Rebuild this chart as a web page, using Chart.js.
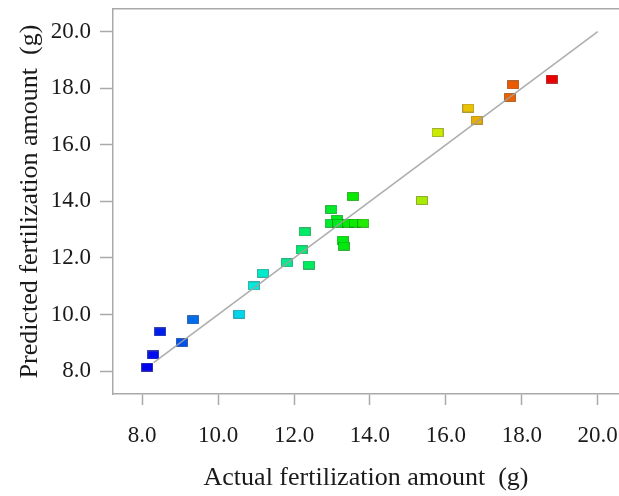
<!DOCTYPE html>
<html>
<head>
<meta charset="utf-8">
<script src="https://cdn.jsdelivr.net/npm/chart.js@4/dist/chart.umd.min.js"></script>
<style>
  body { margin: 0; background: #fff; overflow: hidden; }
  #chart { display: block; }
</style>
</head>
<body>
<canvas id="chart" width="619" height="496"></canvas>
<script>
// measured vs predicted values (g)
var actualValues = [8.13, 8.29, 8.47, 9.04, 9.34, 10.56, 10.94, 11.18, 11.81, 12.20, 12.28, 12.39,
  12.98, 13.12, 12.96, 13.16, 13.42, 13.60, 13.82, 13.28, 13.31, 13.55, 15.37, 15.78,
  16.59, 16.81, 17.69, 17.77, 18.79];
var predictedValues = [8.14, 8.57, 9.39, 9.01, 9.81, 10.01, 11.01, 11.46, 11.83, 12.29, 12.92, 11.75,
  13.71, 13.36, 13.23, 13.23, 13.23, 13.23, 13.23, 12.63, 12.42, 14.17, 14.03, 16.43,
  17.30, 16.87, 17.67, 18.12, 18.32];
var lineX = [8.3, 20.0];
var lineY = [8.3, 20.0];
var xTicks = [8, 10, 12, 14, 16, 18, 20];
var yTicks = [8, 10, 12, 14, 16, 18, 20];

var serif = "'Liberation Serif', 'Times New Roman', serif";
var frameColor = '#a9a9a9';

// colour each marker by its actual value, blue -> red
var lo = Math.min.apply(null, actualValues);
var hi = Math.max.apply(null, actualValues);
function makeMarker(v) {
  var hue = 240 * (hi - v) / (hi - lo);
  var c = document.createElement('canvas');
  c.width = 12; c.height = 9;
  var g = c.getContext('2d');
  g.fillStyle = 'hsl(' + hue + ',100%,46%)';
  g.fillRect(0.5, 0.5, 11, 8);
  g.strokeStyle = 'hsla(' + hue + ',100%,25%,0.6)';
  g.lineWidth = 1;
  g.strokeRect(0.5, 0.5, 11, 8);
  return c;
}

var points = actualValues.map(function(v, i) { return {x: v, y: predictedValues[i]}; });
var markers = actualValues.map(makeMarker);
var linePts = lineX.map(function(v, i) { return {x: v, y: lineY[i]}; });

function fixTicks(list) {
  return function(scale) { scale.ticks = list.map(function(v) { return {value: v}; }); };
}
// no extra room for overhanging labels
function noPad(s) { s.paddingLeft = 0; s.paddingRight = 0; s.paddingTop = 0; s.paddingBottom = 0; }

new Chart(document.getElementById('chart'), {
  type: 'scatter',
  data: {
    datasets: [
      {
        type: 'line',
        data: linePts,
        borderColor: 'rgba(160,160,160,0.85)',
        borderWidth: 1.6,
        pointRadius: 0,
        fill: false
      },
      {
        data: points,
        pointStyle: markers,
        pointRadius: 6
      }
    ]
  },
  options: {
    responsive: false,
    animation: false,
    layout: { padding: 0, autoPadding: false },
    plugins: { legend: { display: false }, tooltip: { enabled: false } },
    scales: {
      x: {
        type: 'linear',
        position: 'bottom',
        min: 7.23,
        max: 20.56,
        afterBuildTicks: fixTicks(xTicks),
        afterFit: function(s) { s.height = 102; noPad(s); },
        grid: { drawOnChartArea: false, drawTicks: true, tickLength: 11, tickColor: frameColor, tickWidth: 1.5 },
        border: { display: true, color: frameColor, width: 1.5 },
        ticks: {
          padding: 17,
          color: '#1a1a1a',
          font: { family: serif, size: 23 },
          maxRotation: 0,
          callback: function(v) { return v.toFixed(1); }
        },
        title: {
          display: true,
          text: 'Actual fertilization amount  (g)',
          color: '#1a1a1a',
          font: { family: serif, size: 26 },
          padding: { top: 0, bottom: 2 }
        }
      },
      xTop: {
        type: 'linear',
        position: 'top',
        min: 7.23,
        max: 20.56,
        afterFit: function(s) { s.height = 9; noPad(s); },
        grid: { display: false },
        border: { display: true, color: frameColor, width: 1.5 },
        ticks: { display: false }
      },
      y: {
        type: 'linear',
        position: 'left',
        min: 7.19,
        max: 20.8,
        afterBuildTicks: fixTicks(yTicks),
        afterFit: function(s) { s.width = 113; noPad(s); },
        grid: { drawOnChartArea: false, drawTicks: true, tickLength: 13, tickColor: frameColor, tickWidth: 1.5 },
        border: { display: true, color: frameColor, width: 1.5 },
        ticks: {
          padding: 9,
          color: '#1a1a1a',
          font: { family: serif, size: 23 },
          callback: function(v) { return v.toFixed(1); }
        },
        title: {
          display: true,
          text: 'Predicted fertilization amount  (g)',
          color: '#1a1a1a',
          font: { family: serif, size: 26 },
          padding: { top: 15, bottom: 0 }
        }
      }
    }
  }
});
</script>
</body>
</html>
